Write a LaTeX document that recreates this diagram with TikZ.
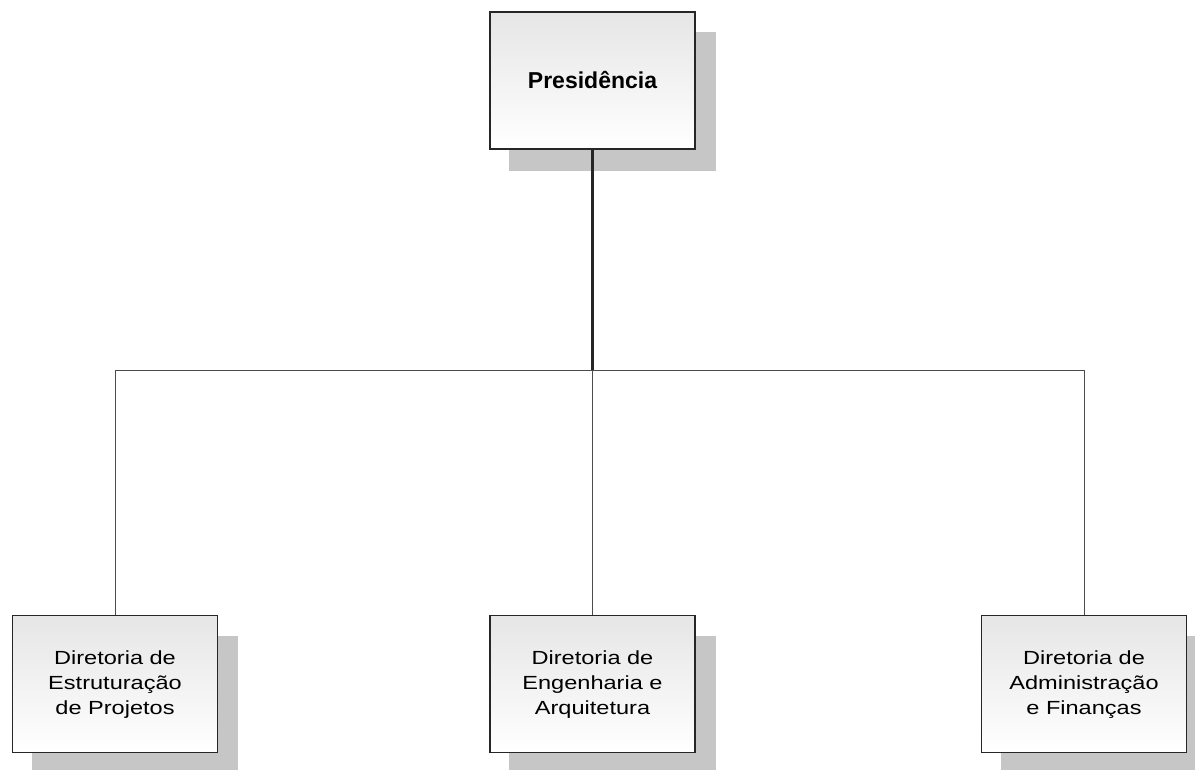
\documentclass[tikz,border=0pt]{standalone}
\usepackage{fontspec}
\usepackage{graphicx}
\setmainfont{Liberation Sans}
\usetikzlibrary{backgrounds}
\newcommand{\boxtext}[1]{\scalebox{1.24}[1]{\fontsize{19}{25}\selectfont\begin{tabular}{@{}c@{}}#1\end{tabular}}}
\begin{document}
\begin{tikzpicture}[x=1pt,y=-1pt,
  orgbox/.style={draw=black!85, line width=1.3pt, top color=gray!20, bottom color=white,
    minimum width=205pt, minimum height=137pt, align=center, inner sep=0pt},
  shadowfill/.style={fill=gray!45, draw=none},
  mainconn/.style={draw=black!85, line width=2.2pt},
  conn/.style={draw=black!70, line width=0.9pt}]
\useasboundingbox (0,0) rectangle (1195,770);

\node[orgbox, font=\fontsize{23}{27}\selectfont\bfseries] (pres) at (592.5,80.5) {Presidência};
\node[orgbox] (d1) at (115,684) {\boxtext{Diretoria de\\Estruturação\\de Projetos}};
\node[orgbox] (d2) at (592.5,684) {\boxtext{Diretoria de\\Engenharia e\\Arquitetura}};
\node[orgbox] (d3) at (1084,684) {\boxtext{Diretoria de\\Administração\\e Finanças}};

\begin{scope}[on background layer]
  \fill[white] (0,0) rectangle (1195,770);
  \foreach \n in {pres,d1,d2,d3}{
    \fill[shadowfill] ([shift={(20,21)}]\n.north west) rectangle ([shift={(20,21)}]\n.south east);
  }
\end{scope}

\coordinate (hub) at (592.5,370);
\draw[mainconn] (pres.south) -- (hub);
\draw[conn] (d1.north) -- (d1.north |- hub) -- (d3.north |- hub) -- (d3.north);
\draw[conn] (hub) -- (d2.north);
\end{tikzpicture}
\end{document}
